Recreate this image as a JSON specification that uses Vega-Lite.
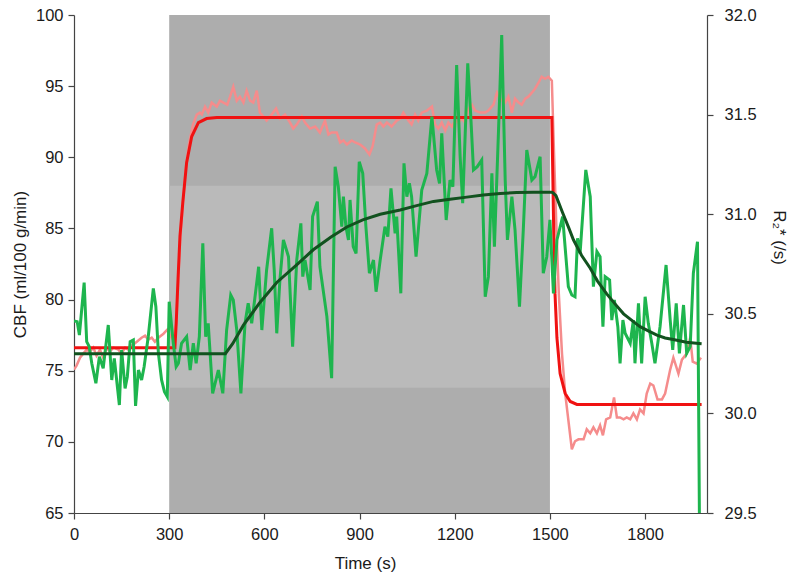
{
  "$schema": "https://vega.github.io/schema/vega-lite/v6.json",
  "width": 633,
  "height": 498,
  "autosize": {"type": "none"},
  "padding": {"left": 74, "top": 15, "right": 93, "bottom": 70},
  "background": "white",
  "config": {
    "view": {"stroke": null},
    "font": "Liberation Sans",
    "axis": {
      "grid": false,
      "domainColor": "#444444",
      "tickColor": "#444444",
      "labelColor": "#1a1a1a",
      "titleColor": "#1a1a1a",
      "labelFontSize": 16.5,
      "titleFontSize": 17,
      "titleFontWeight": "normal",
      "domainWidth": 1.2,
      "tickWidth": 1.2,
      "tickSize": 6
    }
  },
  "datasets": {
    "shade": [
      {"start": 300, "end": 1500, "lo": 65, "hi": 100, "band": "stim"},
      {"start": 300, "end": 1500, "lo": 73.8, "hi": 88.0, "band": "sd"}
    ],
    "cbf_raw": [
      {"t":0,"v":78.5},{"t":10,"v":78.45},{"t":17,"v":77.51},{"t":32,"v":81.19},{"t":40,"v":77.04},{"t":48,"v":76.69},{"t":56,"v":75.52},{"t":69,"v":74.12},{"t":80,"v":75.99},{"t":92,"v":75.17},{"t":108,"v":78.21},{"t":119,"v":74.35},{"t":127,"v":75.87},{"t":143,"v":72.59},{"t":150,"v":76.46},{"t":161,"v":73.76},{"t":168,"v":74.58},{"t":177,"v":77.04},{"t":187,"v":77.16},{"t":194,"v":72.52},{"t":203,"v":75.05},{"t":213,"v":74.35},{"t":221,"v":75.28},{"t":234,"v":77.39},{"t":250,"v":80.79},{"t":258,"v":79.5},{"t":266,"v":76.22},{"t":276,"v":74.35},{"t":285,"v":73.53},{"t":294,"v":73.17},{"t":300,"v":79.85},{"t":313,"v":76.93},{"t":322,"v":75.28},{"t":329,"v":75.52},{"t":339,"v":76.93},{"t":355,"v":77.39},{"t":366,"v":75.05},{"t":376,"v":76.93},{"t":385,"v":75.52},{"t":395,"v":77.39},{"t":406,"v":83.96},{"t":415,"v":77.39},{"t":423,"v":78.33},{"t":437,"v":73.41},{"t":455,"v":75.05},{"t":469,"v":73.41},{"t":481,"v":77.86},{"t":494,"v":80.32},{"t":502,"v":79.97},{"t":513,"v":77.86},{"t":526,"v":73.41},{"t":539,"v":78.33},{"t":549,"v":79.74},{"t":560,"v":78.33},{"t":568,"v":79.74},{"t":582,"v":82.31},{"t":592,"v":77.86},{"t":607,"v":82.08},{"t":623,"v":85.01},{"t":631,"v":82.08},{"t":639,"v":77.63},{"t":649,"v":81.4},{"t":660,"v":84.19},{"t":676,"v":83.01},{"t":689,"v":76.69},{"t":702,"v":82.78},{"t":715,"v":85.36},{"t":721,"v":81.61},{"t":728,"v":82.78},{"t":744,"v":80.67},{"t":752,"v":85.83},{"t":767,"v":86.88},{"t":775,"v":82.31},{"t":797,"v":78.8},{"t":812,"v":74.47},{"t":823,"v":89.34},{"t":833,"v":87.93},{"t":844,"v":85.12},{"t":849,"v":87.23},{"t":857,"v":85.12},{"t":865,"v":84.19},{"t":870,"v":87.0},{"t":880,"v":83.72},{"t":889,"v":83.25},{"t":899,"v":89.69},{"t":910,"v":88.87},{"t":920,"v":85.12},{"t":931,"v":81.85},{"t":944,"v":82.78},{"t":952,"v":80.55},{"t":965,"v":82.78},{"t":980,"v":85.12},{"t":989,"v":84.42},{"t":999,"v":87.82},{"t":1012,"v":84.66},{"t":1017,"v":85.83},{"t":1030,"v":80.44},{"t":1040,"v":89.57},{"t":1049,"v":87.23},{"t":1057,"v":88.17},{"t":1064,"v":87.23},{"t":1078,"v":83.01},{"t":1096,"v":87.7},{"t":1112,"v":88.87},{"t":1128,"v":92.85},{"t":1143,"v":89.11},{"t":1152,"v":88.17},{"t":1159,"v":91.69},{"t":1173,"v":85.59},{"t":1185,"v":88.4},{"t":1194,"v":87.93},{"t":1206,"v":96.49},{"t":1217,"v":90.04},{"t":1225,"v":86.77},{"t":1241,"v":96.61},{"t":1250,"v":93.09},{"t":1259,"v":89.11},{"t":1271,"v":89.34},{"t":1285,"v":89.81},{"t":1296,"v":80.2},{"t":1306,"v":81.61},{"t":1317,"v":88.87},{"t":1325,"v":83.72},{"t":1338,"v":91.92},{"t":1348,"v":98.59},{"t":1359,"v":88.4},{"t":1366,"v":84.19},{"t":1380,"v":87.23},{"t":1390,"v":84.89},{"t":1404,"v":79.5},{"t":1416,"v":84.89},{"t":1427,"v":90.51},{"t":1443,"v":88.4},{"t":1453,"v":88.64},{"t":1469,"v":90.04},{"t":1479,"v":81.85},{"t":1490,"v":83.01},{"t":1500,"v":85.6},{"t":1511,"v":80.44},{"t":1522,"v":84.19},{"t":1530,"v":84.89},{"t":1540,"v":85.83},{"t":1558,"v":80.91},{"t":1569,"v":80.32},{"t":1579,"v":80.2},{"t":1587,"v":84.31},{"t":1595,"v":83.25},{"t":1613,"v":89.11},{"t":1627,"v":87.23},{"t":1637,"v":80.91},{"t":1648,"v":83.37},{"t":1658,"v":83.01},{"t":1667,"v":78.09},{"t":1674,"v":81.61},{"t":1688,"v":81.38},{"t":1695,"v":78.56},{"t":1703,"v":79.97},{"t":1714,"v":78.09},{"t":1721,"v":75.52},{"t":1730,"v":78.56},{"t":1737,"v":77.63},{"t":1753,"v":76.93},{"t":1763,"v":78.56},{"t":1768,"v":75.52},{"t":1779,"v":79.74},{"t":1789,"v":75.52},{"t":1800,"v":80.2},{"t":1810,"v":78.33},{"t":1821,"v":76.93},{"t":1831,"v":75.52},{"t":1847,"v":78.09},{"t":1866,"v":82.43},{"t":1879,"v":78.56},{"t":1887,"v":76.46},{"t":1898,"v":79.74},{"t":1908,"v":76.22},{"t":1921,"v":79.62},{"t":1931,"v":76.22},{"t":1942,"v":76.69},{"t":1952,"v":81.85},{"t":1965,"v":84.07},{"t":1971,"v":65.0}
    ],
    "cbf_fit": [
      {"t":0,"v":76.2},{"t":477,"v":76.2},{"t":500,"v":76.9},{"t":534,"v":78.2},{"t":586,"v":79.8},{"t":639,"v":81.2},{"t":700,"v":82.4},{"t":754,"v":83.5},{"t":810,"v":84.4},{"t":860,"v":85.1},{"t":910,"v":85.6},{"t":965,"v":86.0},{"t":1028,"v":86.3},{"t":1080,"v":86.6},{"t":1133,"v":86.9},{"t":1185,"v":87.05},{"t":1238,"v":87.2},{"t":1290,"v":87.35},{"t":1343,"v":87.45},{"t":1395,"v":87.52},{"t":1448,"v":87.55},{"t":1506,"v":87.55},{"t":1510,"v":87.5},{"t":1519,"v":87.3},{"t":1540,"v":86.1},{"t":1560,"v":85.0},{"t":1574,"v":84.2},{"t":1600,"v":83.1},{"t":1627,"v":82.2},{"t":1650,"v":81.3},{"t":1679,"v":80.4},{"t":1705,"v":79.7},{"t":1732,"v":79.0},{"t":1760,"v":78.5},{"t":1784,"v":78.1},{"t":1810,"v":77.8},{"t":1837,"v":77.5},{"t":1863,"v":77.3},{"t":1889,"v":77.2},{"t":1930,"v":77.0},{"t":1978,"v":76.9}
    ],
    "r2_raw": [
      {"t":0,"v":30.22},{"t":8,"v":30.24},{"t":19,"v":30.28},{"t":29,"v":30.3},{"t":40,"v":30.32},{"t":50,"v":30.31},{"t":61,"v":30.33},{"t":71,"v":30.29},{"t":82,"v":30.32},{"t":92,"v":30.28},{"t":103,"v":30.33},{"t":113,"v":30.31},{"t":124,"v":30.33},{"t":140,"v":30.32},{"t":150,"v":30.3},{"t":161,"v":30.33},{"t":171,"v":30.32},{"t":182,"v":30.34},{"t":198,"v":30.36},{"t":213,"v":30.38},{"t":224,"v":30.39},{"t":234,"v":30.37},{"t":245,"v":30.38},{"t":255,"v":30.36},{"t":266,"v":30.38},{"t":282,"v":30.4},{"t":294,"v":30.42},{"t":303,"v":30.39},{"t":313,"v":30.37},{"t":322,"v":30.45},{"t":328,"v":30.65},{"t":335,"v":30.88},{"t":343,"v":31.05},{"t":352,"v":31.22},{"t":362,"v":31.35},{"t":375,"v":31.45},{"t":387,"v":31.5},{"t":397,"v":31.51},{"t":403,"v":31.5},{"t":413,"v":31.54},{"t":423,"v":31.51},{"t":434,"v":31.56},{"t":450,"v":31.54},{"t":460,"v":31.57},{"t":471,"v":31.56},{"t":483,"v":31.55},{"t":492,"v":31.59},{"t":502,"v":31.64},{"t":513,"v":31.57},{"t":523,"v":31.59},{"t":534,"v":31.56},{"t":544,"v":31.62},{"t":555,"v":31.57},{"t":565,"v":31.56},{"t":576,"v":31.62},{"t":586,"v":31.51},{"t":597,"v":31.49},{"t":607,"v":31.47},{"t":623,"v":31.5},{"t":637,"v":31.53},{"t":649,"v":31.48},{"t":665,"v":31.5},{"t":681,"v":31.46},{"t":691,"v":31.43},{"t":702,"v":31.45},{"t":718,"v":31.49},{"t":728,"v":31.46},{"t":744,"v":31.43},{"t":760,"v":31.44},{"t":775,"v":31.41},{"t":791,"v":31.47},{"t":802,"v":31.4},{"t":812,"v":31.41},{"t":828,"v":31.41},{"t":839,"v":31.36},{"t":849,"v":31.37},{"t":860,"v":31.35},{"t":875,"v":31.37},{"t":886,"v":31.36},{"t":902,"v":31.35},{"t":917,"v":31.33},{"t":931,"v":31.3},{"t":941,"v":31.34},{"t":954,"v":31.45},{"t":965,"v":31.46},{"t":975,"v":31.44},{"t":986,"v":31.46},{"t":1001,"v":31.44},{"t":1017,"v":31.47},{"t":1028,"v":31.48},{"t":1038,"v":31.51},{"t":1054,"v":31.47},{"t":1064,"v":31.45},{"t":1075,"v":31.5},{"t":1085,"v":31.47},{"t":1096,"v":31.51},{"t":1112,"v":31.52},{"t":1128,"v":31.54},{"t":1138,"v":31.45},{"t":1148,"v":31.43},{"t":1159,"v":31.46},{"t":1170,"v":31.42},{"t":1180,"v":31.46},{"t":1191,"v":31.44},{"t":1201,"v":31.47},{"t":1212,"v":31.46},{"t":1222,"v":31.48},{"t":1233,"v":31.46},{"t":1243,"v":31.53},{"t":1254,"v":31.55},{"t":1264,"v":31.52},{"t":1280,"v":31.51},{"t":1296,"v":31.51},{"t":1306,"v":31.52},{"t":1322,"v":31.55},{"t":1333,"v":31.61},{"t":1343,"v":31.58},{"t":1359,"v":31.56},{"t":1369,"v":31.59},{"t":1380,"v":31.51},{"t":1390,"v":31.58},{"t":1401,"v":31.56},{"t":1411,"v":31.55},{"t":1422,"v":31.58},{"t":1432,"v":31.59},{"t":1443,"v":31.61},{"t":1453,"v":31.63},{"t":1464,"v":31.66},{"t":1474,"v":31.69},{"t":1485,"v":31.68},{"t":1495,"v":31.69},{"t":1506,"v":31.67},{"t":1512,"v":31.35},{"t":1520,"v":30.95},{"t":1528,"v":30.6},{"t":1538,"v":30.3},{"t":1548,"v":30.1},{"t":1569,"v":29.82},{"t":1579,"v":29.86},{"t":1590,"v":29.87},{"t":1606,"v":29.87},{"t":1616,"v":29.92},{"t":1627,"v":29.9},{"t":1637,"v":29.93},{"t":1648,"v":29.9},{"t":1658,"v":29.94},{"t":1667,"v":29.89},{"t":1677,"v":29.97},{"t":1690,"v":29.98},{"t":1702,"v":30.08},{"t":1711,"v":29.98},{"t":1721,"v":29.98},{"t":1732,"v":29.97},{"t":1742,"v":29.98},{"t":1753,"v":29.97},{"t":1763,"v":30.0},{"t":1774,"v":29.97},{"t":1784,"v":30.02},{"t":1795,"v":30.0},{"t":1805,"v":30.1},{"t":1816,"v":30.15},{"t":1826,"v":30.14},{"t":1839,"v":30.07},{"t":1853,"v":30.07},{"t":1863,"v":30.1},{"t":1879,"v":30.22},{"t":1889,"v":30.28},{"t":1905,"v":30.2},{"t":1916,"v":30.27},{"t":1931,"v":30.3},{"t":1942,"v":30.38},{"t":1950,"v":30.26},{"t":1963,"v":30.25},{"t":1976,"v":30.28}
    ],
    "r2_fit": [
      {"t":0,"v":30.33},{"t":318,"v":30.33},{"t":322,"v":30.45},{"t":328,"v":30.68},{"t":334,"v":30.89},{"t":343,"v":31.06},{"t":355,"v":31.26},{"t":371,"v":31.39},{"t":392,"v":31.46},{"t":418,"v":31.48},{"t":450,"v":31.485},{"t":1506,"v":31.485},{"t":1509,"v":31.2},{"t":1512,"v":30.9},{"t":1516,"v":30.6},{"t":1522,"v":30.38},{"t":1532,"v":30.2},{"t":1548,"v":30.1},{"t":1564,"v":30.06},{"t":1585,"v":30.045},{"t":1978,"v":30.045}
    ]
  },
  "layer": [
    {
      "data": {"name": "shade"},
      "mark": {"type": "rect"},
      "encoding": {
        "x": {
          "field": "start", "type": "quantitative",
          "scale": {"domain": [0, 1995], "nice": false, "zero": false},
          "axis": {"values": [0, 300, 600, 900, 1200, 1500, 1800], "format": "d", "title": "Time (s)", "labelPadding": 7, "titlePadding": 13, "titleX": 291, "labelFlush": false}
        },
        "x2": {"field": "end"},
        "y": {
          "field": "lo", "type": "quantitative",
          "scale": {"domain": [65, 100], "nice": false, "zero": false},
          "axis": {"orient": "left", "values": [65, 70, 75, 80, 85, 90, 95, 100], "title": "CBF (ml/100 g/min)", "labelPadding": 5, "titlePadding": 6}
        },
        "y2": {"field": "hi"},
        "color": {"field": "band", "type": "nominal", "scale": {"domain": ["stim", "sd"], "range": ["#adadad", "#bababa"]}, "legend": null}
      }
    },
    {
      "layer": [
        {
          "data": {"name": "r2_raw"},
          "mark": {"type": "line", "color": "#f58c8c", "strokeWidth": 2.5, "clip": true},
          "encoding": {
            "x": {"field": "t", "type": "quantitative"},
            "y": {
              "field": "v", "type": "quantitative",
              "scale": {"domain": [29.5, 32.0], "nice": false, "zero": false},
              "axis": {"orient": "right", "values": [29.5, 30.0, 30.5, 31.0, 31.5, 32.0], "format": ".1f", "title": "R₂* (/s)", "labelPadding": 11, "titlePadding": 13, "titleY": 222}
            }
          }
        },
        {
          "data": {"name": "r2_fit"},
          "mark": {"type": "line", "color": "#f01212", "strokeWidth": 3, "clip": true},
          "encoding": {
            "x": {"field": "t", "type": "quantitative"},
            "y": {"field": "v", "type": "quantitative"}
          }
        }
      ]
    },
    {
      "layer": [
        {
          "data": {"name": "cbf_raw"},
          "mark": {"type": "line", "color": "#1eb54e", "strokeWidth": 3, "clip": true},
          "encoding": {
            "x": {"field": "t", "type": "quantitative"},
            "y": {
              "field": "v", "type": "quantitative",
              "scale": {"domain": [65, 100], "nice": false, "zero": false},
              "axis": null
            }
          }
        },
        {
          "data": {"name": "cbf_fit"},
          "mark": {"type": "line", "color": "#12521f", "strokeWidth": 3, "clip": true},
          "encoding": {
            "x": {"field": "t", "type": "quantitative"},
            "y": {"field": "v", "type": "quantitative"}
          }
        }
      ]
    }
  ],
  "resolve": {"scale": {"y": "independent"}, "axis": {"y": "independent"}}
}
